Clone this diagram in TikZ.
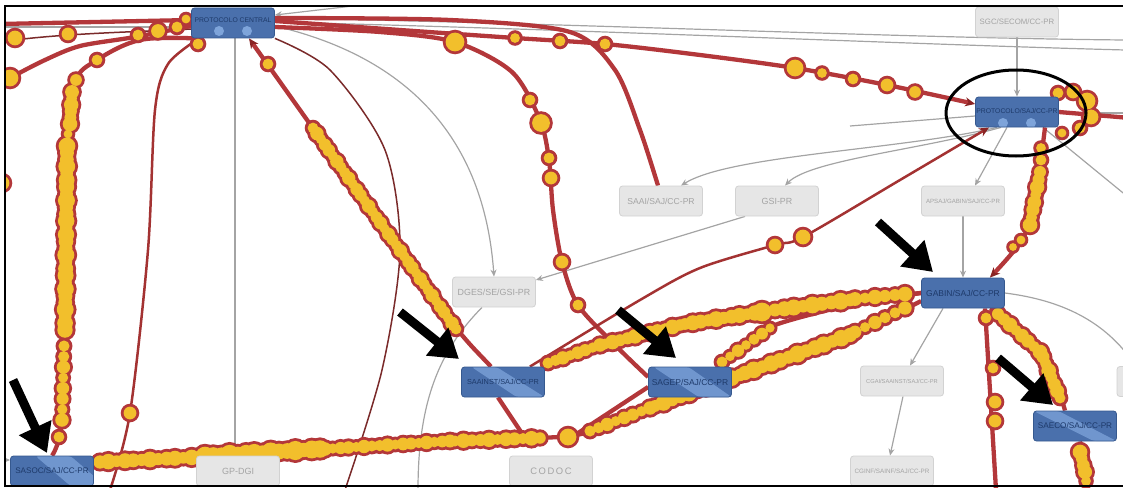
\documentclass[tikz,border=0pt]{standalone}
\usepackage{fontspec}
\setmainfont{Liberation Sans}
\usetikzlibrary{calc,arrows.meta}
\definecolor{bred}{HTML}{B3373A}
\definecolor{byel}{HTML}{F2BF2C}
\definecolor{dred}{HTML}{8A2424}
\definecolor{brn}{HTML}{7A2A2A}
\definecolor{rln}{HTML}{A33232}
\definecolor{nblue}{HTML}{4A70AC}
\definecolor{nblueb}{HTML}{36598F}
\definecolor{ntext}{HTML}{1E3A6A}
\definecolor{lblue}{HTML}{7EA4DA}
\definecolor{gfill}{HTML}{E6E6E6}
\definecolor{gbord}{HTML}{D2D2D2}
\definecolor{gtext}{HTML}{A4A4A4}
\definecolor{gline}{HTML}{A4A4A4}
\pgfdeclarelayer{edges}\pgfdeclarelayer{beads}\pgfdeclarelayer{front}
\pgfsetlayers{edges,beads,main,front}
\newcommand\fs[1]{\fontsize{#1}{#1}\selectfont}
\newcommand\bdR[2]{\fill[bred] (#1) circle[radius=#2+3.3];}
\newcommand\bdY[2]{\fill[byel] (#1) circle[radius=#2+0.4];}
\let\bd\bdR
\newcommand\bb[2]{\bd{#1}{#2}}
\newcommand\bl[4]{\foreach \i in {0,...,#3}{\pgfmathsetmacro\bt{\i/#3}\pgfmathsetmacro\br{#4*(1+0.16*sin(\i*137+#3*29))}\bd{$#1!\bt!#2$}{\br}}}
\newcommand\allbeads{%
\bb{15,38}{7}\bb{68,34}{6}\bb{138,35}{5}\bb{158,31}{6.5}\bb{177,27}{5}\bb{186,19}{4}\bb{198,44}{5}%
\bb{10,78}{8}\bb{2,183}{7}\bb{97,60}{5}\bb{76,80}{5.5}%
\bl{(72,92)}{(70,124)}{5}{6}\bb{68,134}{4}\bl{(67,146)}{(65,330)}{27}{7}\bl{(64,346)}{(62,420)}{7}{5.5}\bb{59,437}{5}%
\bb{130,413}{6}%
\bb{268,64}{5}\bl{(313,128)}{(456,329)}{36}{5.5}%
\bb{515,38}{4.5}\bb{560,41}{5}\bb{605,44}{5}\bb{795,68}{8}\bb{822,73}{4.5}\bb{853,79}{5}\bb{887,85}{6}\bb{915,92}{5.5}%
\bb{455,42}{9}\bb{530,100}{5}\bb{541,123}{8.5}\bb{549,158}{5}\bb{551,178}{6}\bb{562,262}{6}\bb{578,305}{5}%
\bl{(548,363)}{(600,345)}{7}{5.5}\bl{(605,344)}{(680,325)}{10}{6}\bl{(685,324)}{(755,313)}{9}{6.5}\bb{762,312}{9}\bl{(775,310)}{(850,300)}{8}{7}\bl{(855,299)}{(905,294)}{5}{6}%
\bl{(100,462)}{(200,457)}{12}{6.5}\bl{(205,456)}{(320,449)}{14}{8}\bl{(325,449)}{(450,441)}{16}{5.5}\bl{(455,441)}{(540,438)}{10}{6}\bb{568,437}{8}\bl{(590,431)}{(650,408)}{7}{5.5}\bl{(655,406)}{(740,375)}{10}{6.5}\bl{(745,373)}{(850,335)}{12}{7}\bl{(855,332)}{(905,308)}{5}{5.5}%
\bl{(722,362)}{(770,328)}{6}{5}%
\bb{775,245}{6}\bb{803,237}{7}%
\bb{1058,93}{5}\bb{1073,92}{6}\bb{1087,101}{8}\bb{1091,117}{7}\bb{1080,128}{5}\bb{1062,133}{4}%
\bb{1041,148}{4.5}\bb{1041,160}{5}\bl{(1040,172)}{(1030,225)}{7}{6}\bb{1021,240}{4}\bb{1013,247}{3.5}%
\bl{(998,314)}{(1040,352)}{7}{6}\bl{(1043,357)}{(1060,398)}{6}{6}%
\bb{986,318}{5}\bb{993,368}{5}\bb{995,402}{6}\bb{995,421}{6}%
\bl{(1080,452)}{(1085,472)}{3}{6}\bb{1086,481}{4.5}%
}
\begin{document}
\begin{tikzpicture}[x=1pt,y=-1pt,
 bnode/.style={draw=nblueb, fill=nblue, line width=0.8pt, rounded corners=3pt, minimum width=83pt, minimum height=30pt, inner sep=0pt, text=ntext},
 gnode/.style={draw=gbord, fill=gfill, line width=0.8pt, rounded corners=3pt, minimum width=83pt, minimum height=30pt, inner sep=0pt, text=gtext},
 ntxt/.style={text=ntext, inner sep=0pt},
 nodedots/.style 2 args={path picture={\fill[lblue] ($(path picture bounding box.south)+(-#2pt,#1pt)$) circle[radius=5pt]; \fill[lblue] ($(path picture bounding box.south)+(#2pt,#1pt)$) circle[radius=5pt];}},
 nodeband/.style n args={4}{path picture={\fill[lblue, opacity=0.75] ($(path picture bounding box.north west)+(#1pt,0pt)$) -- ($(path picture bounding box.north west)+(#2pt,0pt)$) -- ($(path picture bounding box.south west)+(#4pt,0pt)$) -- ($(path picture bounding box.south west)+(#3pt,0pt)$) -- cycle;}},
 gedge/.style={draw=gline, line width=1.2pt},
 garr/.style={gedge, -{Stealth[length=7pt,width=6pt]}},
 redge/.style={draw=bred, line width=4.3pt},
 rline/.style={draw=rln, line width=2.5pt},
 brline/.style={draw=brn, line width=1.5pt},
 rarr/.style={-{Stealth[length=10pt,width=9pt,color=dred]}},
 bigarrow/.style={line width=9pt, -{Triangle[length=28pt,width=34pt]}}
]
\useasboundingbox (0,0) rectangle (1123,487);
% ---------- nodes ----------
\node[bnode, nodedots={7}{14}] (pc) at (233,23) {};
\node[ntxt, font=\fs{6.8}] (pct) at (233,20.5) {PROTOCOLO CENTRAL};
\node[bnode, nodedots={4}{14}] (ps) at (1017,112) {};
\node[ntxt, font=\fs{6.8}] (pst) at (1017,111) {PROTOCOLO/SAJ/CC-PR};
\node[bnode, font=\fs{8.5}] (gab) at (963,293) {GABIN/SAJ/CC-PR};
\node[bnode, nodeband={10}{35}{55}{83}, font=\fs{7.3}] (sai) at (503,382) {SAAINST/SAJ/CC-PR};
\node[bnode, nodeband={5}{40}{50}{83}, font=\fs{8.5}] (sag) at (690,382) {SAGEP/SAJ/CC-PR};
\node[bnode, nodeband={0}{25}{60}{83}, font=\fs{8.2}] (sae) at (1075,426) {SAECO/SAJ/CC-PR};
\node[bnode, nodeband={25}{60}{60}{95}, font=\fs{8.1}] (sas) at (52,471) {SASOC/SAJ/CC-PR};
\node[gnode, font=\fs{7.8}] (sgc) at (1017,22) {SGC/SECOM/CC-PR};
\node[gnode, font=\fs{8.6}] (saai) at (661,201) {SAAI/SAJ/CC-PR};
\node[gnode, font=\fs{8.9}] (gsi) at (777,201) {GSI-PR};
\node[gnode, font=\fs{6.1}] (aps) at (963,201) {APSAJ/GABIN/SAJ/CC-PR};
\node[gnode, font=\fs{8.9}] (dges) at (494,292) {DGES/SE/GSI-PR};
\node[gnode, font=\fs{5.7}] (cgai) at (902,381) {CGAI/SAAINST/SAJ/CC-PR};
\node[gnode, font=\fs{6.3}] (cginf) at (892,471) {CGINF/SAINF/SAJ/CC-PR};
\node[gnode, font=\fs{9}] (gp) at (238,471) {GP-DGI};
\node[gnode, font=\fs{9.4}] (codoc) at (551,471) {C\,O\,D\,O\,C};
\node[gnode] (part) at (1158.5,381.5) {};
% ---------- coordinates ----------
\coordinate (e1) at (1150,215); \coordinate (e2) at (1130,113); \coordinate (e3) at (850,126);
\coordinate (e4) at (418,490); \coordinate (e5) at (1135,365); \coordinate (e6) at (405,0);
\coordinate (e7) at (1125,40); \coordinate (e8) at (1125,50); \coordinate (e9) at (0,27);
\coordinate (e10) at (-5,460);
\coordinate (r1) at (0,24); \coordinate (r2) at (0,42); \coordinate (r3) at (-6,88);
\coordinate (r4) at (110,490); \coordinate (r5) at (345,490); \coordinate (r6) at (1130,118);
\coordinate (r7) at (996,490); \coordinate (r8) at (1088,490);
\coordinate (ci1) at (525,438); \coordinate (ci2) at (572,437);
\coordinate (pcsw) at ([xshift=3pt]pc.south west);
\coordinate (pcsw2) at ([xshift=8pt]pc.south west);
\coordinate (pcw) at ([yshift=-3pt]pc.west);
\coordinate (pce1) at ([yshift=2pt]pc.east);
\coordinate (pce2) at ([yshift=-4pt]pc.east);
\coordinate (pce3) at ([yshift=5pt]pc.east);
\coordinate (psw) at ([yshift=8pt]ps.west);
\coordinate (pssw) at ([xshift=14pt]ps.south west);
\coordinate (pss) at ([xshift=28pt]ps.south);
\coordinate (saain) at ([xshift=-3pt]saai.north);
\coordinate (sagw) at ([yshift=5pt]sag.west);
\coordinate (sagne) at ([xshift=-10pt]sag.north east);
\coordinate (saine) at ([xshift=-15pt]sai.north east);
\coordinate (sase) at ([yshift=9pt]sas.east);
\coordinate (gabsw) at ([yshift=-8pt]gab.west);
\coordinate (gabne) at ([xshift=-15pt]gab.north east);
\coordinate (gabse) at ([xshift=-15pt]gab.south east);
\coordinate (saen) at ([xshift=-10pt]sae.north);
% ---------- gray edges ----------
\begin{pgfonlayer}{edges}
\draw[garr] (sgc) -- (ps);
\draw[garr] ([xshift=-20pt]ps.south) .. controls (900,150) and (730,155) .. ([xshift=20pt]saai.north);
\draw[garr] ([xshift=-16pt]ps.south) .. controls (920,150) and (810,160) .. ([xshift=8pt]gsi.north);
\draw[garr] ([xshift=-10pt]ps.south) -- ([xshift=12pt]aps.north);
\draw[gedge] ([xshift=26pt]ps.south) -- (e1);
\draw[gedge] (e3) -- ([yshift=-4pt]ps.west);
\draw[gedge] ([yshift=-1pt]ps.east) -- (e2);
\draw[garr] ([xshift=10pt]gsi.south west) -- ([yshift=12pt]dges.east);
\draw[garr] ([yshift=-3pt]pc.east) .. controls (420,60) and (485,150) .. (dges.north);
\draw[garr] ([xshift=2pt]pc.south) -- ([xshift=-3pt]gp.north);
\draw[gedge] ([xshift=-12pt]dges.south) .. controls (440,350) and (418,400) .. (e4);
\draw[garr] (aps) -- (gab);
\draw[garr] ([xshift=-20pt]gab.south) -- ([xshift=8pt]cgai.north);
\draw[garr] ([xshift=1pt]cgai.south) -- ([xshift=-2pt]cginf.north);
\draw[gedge] (gab.east) .. controls (1060,300) and (1105,320) .. (e5);
\draw[garr] (e6) -- ([yshift=8pt]pc.east);
\draw[gedge] ([yshift=5pt]pc.east) .. controls (600,24) and (900,38) .. (e7);
\draw[gedge] ([yshift=1pt]pc.east) .. controls (600,30) and (900,44) .. (e8);
\draw[gedge] (e9) -- ([yshift=-4pt]pc.west);
\draw[garr] (e10) -- ([yshift=11pt]sas.west);
% ---------- red edges ----------
\draw[brline] (r2) .. controls (60,33) and (140,32) .. ([yshift=-6pt]pc.west);
\draw[rline] plot[smooth] coordinates {(pcsw2) (168,64) (155,110) (148,250) (130,413) (r4)};
\draw[brline] plot[smooth] coordinates {(pc.south east) (330,70) (385,150) (400,250) (382,370) (r5)};
\draw[redge, rarr] (r1) -- ([yshift=3pt]pc.west);
\draw[redge] plot[smooth,tension=0.6] coordinates {(pcsw) (140,40) (97,60) (75,82) (68,140) (65,300) (62,420) (sas.north)};
\draw[redge] plot[smooth] coordinates {(r3) (10,78) (45,60) (80,46) (135,37) (pcw)};
\draw[redge, rarr, rounded corners=25pt] ([xshift=-12pt]sai.north) -- (458,332) -- ([xshift=16pt]pc.south);
\draw[redge, rarr] plot[smooth] coordinates {(pce1) (400,30) (515,38) (605,44) (700,55) (795,68) (887,85) (psw)};
\draw[redge] plot[smooth] coordinates {(pce2) (380,32) (455,42) (512,72) (540,120) (549,160) (553,210) (562,262) (578,305) (615,345) (sagw)};
\draw[redge] plot[smooth] coordinates {(pce3) (450,20) (570,32) (615,70) (640,130) (saain)};
\draw[rline, rarr] plot[smooth] coordinates {(saine) (640,300) (700,268) (775,245) (803,237) (900,180) (pssw)};
\draw[redge] plot[smooth] coordinates {(sai.north east) (600,345) (680,325) (760,312) (850,300) (gab.west)};
\draw[redge] plot[smooth] coordinates {(sase) (200,457) (320,449) (450,441) (540,438) (585,433) (650,408) (740,375) (850,335) (gabsw)};
\draw[redge] plot[smooth] coordinates {(sagne) (745,345) (775,325) (850,305) (gab.west)};
\draw[redge] ([xshift=-5pt]sai.south) -- (ci1);
\draw[redge] ([yshift=-5pt]sag.west) -- (ci2);
\draw[redge, rarr] plot[smooth] coordinates {(pss) (1041,160) (1036,200) (1022,240) (gabne)};
\draw[redge] (ps.east) -- (r6);
\draw[redge] plot[smooth] coordinates {(gabse) (1010,320) (1035,345) (1055,380) (saen)};
\draw[redge] ([xshift=22pt]gab.south) -- (r7);
\draw[redge] ([xshift=5pt]sae.south) -- (r8);
\end{pgfonlayer}
% ---------- beads ----------
\begin{pgfonlayer}{beads}
\let\bd\bdR \allbeads
\let\bd\bdY \allbeads
\end{pgfonlayer}
% ---------- annotations ----------
\begin{pgfonlayer}{front}
\draw[line width=3pt] (1016,113) ellipse [x radius=70, y radius=43];
\draw[bigarrow] (13,380) -- (47,453);
\draw[bigarrow] (400,312) -- (459,359);
\draw[bigarrow] (618,310) -- (676,358);
\draw[bigarrow] (878,222) -- (933,272);
\draw[bigarrow] (998,358) -- (1053,405);
\fill[white] (0,0) rectangle (5,487);
\fill[white] (0,0) rectangle (1123,6);
\draw[line width=1.3pt] (1123,6) -- (5,6) -- (5,486) -- (1123,486);
\end{pgfonlayer}
\end{tikzpicture}
\end{document}
